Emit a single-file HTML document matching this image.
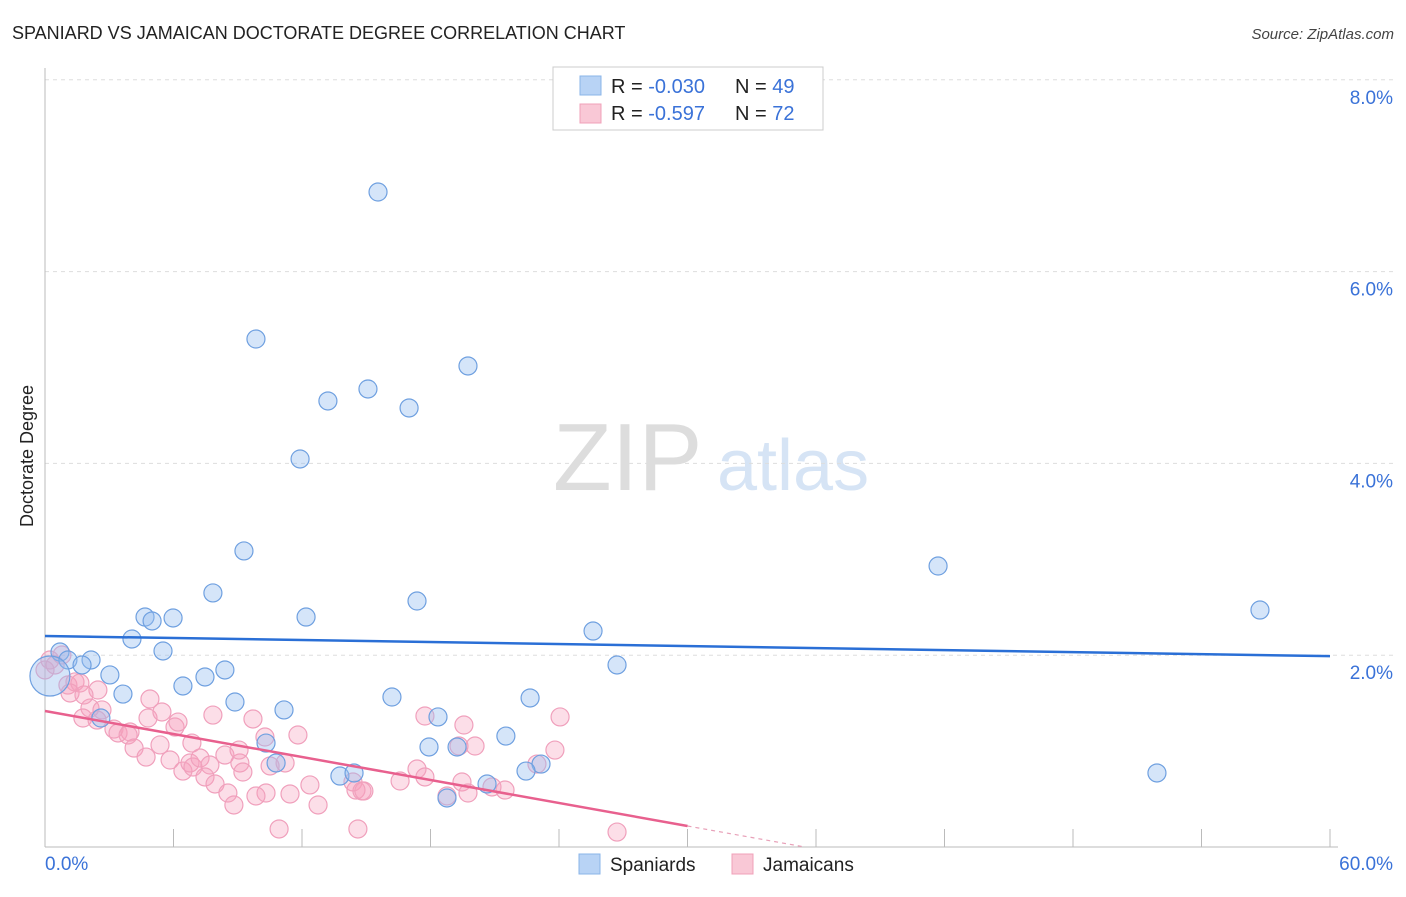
<!DOCTYPE html>
<html><head><meta charset="utf-8"><style>
body{margin:0;background:#fff;font-family:"Liberation Sans",sans-serif}
svg text{font-family:"Liberation Sans",sans-serif}
</style></head><body>
<svg width="1406" height="892" viewBox="0 0 1406 892">
<text x="12" y="39" font-size="18" fill="#222">SPANIARD VS JAMAICAN DOCTORATE DEGREE CORRELATION CHART</text>
<text x="1394" y="39" font-size="15" fill="#444" font-style="italic" text-anchor="end">Source: ZipAtlas.com</text>
<g>
<text x="553" y="490" font-size="96" fill="#ddd" font-family="Liberation Serif,serif">ZIP</text>
<text x="717" y="490" font-size="72" fill="#d6e4f5">atlas</text>
</g>
<g id="grid"></g>
<g id="axes"></g>
<g id="marks"></g>
<text transform="translate(33,456) rotate(-90)" font-size="18" fill="#222" text-anchor="middle">Doctorate Degree</text>
<g>
<rect x="553" y="67" width="270" height="63" fill="#fff" stroke="#ccc"/>
<rect x="580" y="76" width="21" height="19" fill="#b8d3f5" stroke="#8ab4e8"/>
<rect x="580" y="104" width="21" height="19" fill="#f9c8d6" stroke="#f0a0b8"/>
<text x="611" y="93" font-size="20" fill="#222">R = <tspan fill="#3a72d8">-0.030</tspan><tspan x="735">N = </tspan><tspan fill="#3a72d8">49</tspan></text>
<text x="611" y="120" font-size="20" fill="#222">R =  <tspan fill="#3a72d8">-0.597</tspan><tspan x="735">N = </tspan><tspan fill="#3a72d8">72</tspan></text>
</g>
<g>
<rect x="579" y="854" width="21" height="20" fill="#b8d3f5" stroke="#8ab4e8"/>
<text x="610" y="871" font-size="19" fill="#222">Spaniards</text>
<rect x="732" y="854" width="21" height="20" fill="#f9c8d6" stroke="#f0a0b8"/>
<text x="763" y="871" font-size="19" fill="#222">Jamaicans</text>
</g>
</svg>
<script>
const yTicks=[2,4,6,8];
const yTickLabels=["2.0%","4.0%","6.0%","8.0%"];
const xTickLabels=["0.0%","60.0%"];
const spaniardsPx=[[378,192],[256,339],[468,366],[328,401],[368,389],[409,408],[300,459],[244,551],[938,566],[213,593],[417,601],[1260,610],[145,617],[152,621],[173,618],[306,617],[593,631],[132,639],[163,651],[60,652],[68,660],[91,660],[82,665],[617,665],[110,675],[225,670],[183,686],[205,677],[123,694],[392,697],[530,698],[235,702],[284,710],[438,717],[101,718],[266,743],[506,736],[429,747],[457,747],[276,763],[340,776],[354,773],[541,764],[526,771],[1157,773],[487,784],[447,798],[50,676]];
const jamaicansPx=[[50,660],[55,665],[62,655],[45,670],[68,685],[75,682],[80,683],[98,690],[90,708],[70,693],[84,695],[102,710],[83,718],[97,720],[114,729],[118,733],[130,732],[128,735],[134,748],[148,718],[162,712],[150,699],[160,745],[146,757],[175,727],[178,722],[170,760],[192,743],[183,771],[190,763],[193,767],[200,758],[210,765],[205,777],[215,784],[213,715],[225,755],[240,763],[243,772],[239,750],[228,793],[234,805],[253,719],[265,737],[270,766],[285,763],[266,793],[256,796],[290,794],[298,735],[310,785],[318,805],[279,829],[353,782],[356,790],[362,791],[358,829],[364,791],[400,781],[417,769],[425,777],[425,716],[464,725],[462,782],[447,796],[468,793],[475,746],[459,746],[492,787],[505,790],[537,764],[555,750],[560,717],[617,832]];
// data values (x in %, y in %) derived from the picture
const spaniardsX=spaniardsPx.map(p=>+((p[0]-45)/21.417).toFixed(2));
const spaniardsY=spaniardsPx.map(p=>+((847-p[1])/95.9).toFixed(3));
const jamaicansX=jamaicansPx.map(p=>+((p[0]-45)/21.417).toFixed(2));
const jamaicansY=jamaicansPx.map(p=>+((847-p[1])/95.9).toFixed(3));
const spaniardsTrend=[2.2,1.99];
const jamaicansTrend=[1.418,0.219];
const X0=45,X1=1330,Y0=847;
const sx=v=>X0+v*(X1-X0)/60;
const sy=v=>Y0-v*95.9;
const NS="http://www.w3.org/2000/svg";
function mk(tag,attrs,parent){const e=document.createElementNS(NS,tag);for(const k in attrs)e.setAttribute(k,attrs[k]);parent.appendChild(e);return e;}
const grid=document.getElementById('grid'),axes=document.getElementById('axes'),marks=document.getElementById('marks');
yTicks.forEach((t,i)=>{
 const l=mk('line',{x1:X0,x2:1395,y1:sy(t),y2:sy(t),stroke:'#ddd','stroke-dasharray':'4,4'},grid);
 
 
 const tx=mk('text',{x:1393,y:sy(t)+24,'font-size':19,fill:'#3a72d8','text-anchor':'end'},grid);
 tx.textContent=yTickLabels[i];
 
 
});
const la=mk('line',{x1:X0,x2:X0,y1:68,y2:Y0,stroke:'#bbb'},axes);


const ba=mk('line',{x1:X0,x2:X1+8,y1:Y0,y2:Y0,stroke:'#bbb'},axes);


for(let v=6;v<=60;v+=6){
 const t=mk('line',{x1:sx(v),x2:sx(v),y1:829,y2:Y0,stroke:'#bbb'},axes);
 
 
}
[[0,xTickLabels[0],'start',45],[60,xTickLabels[1],'end',1393]].forEach(a=>{
 const t=mk('text',{x:a[3],y:870,'font-size':19,fill:'#3a72d8','text-anchor':a[2]},axes);
 t.textContent=a[1];
 
 
});
function dots(X,Y,fill,stroke,name){
 X.forEach((x,i)=>{
  const r=(i===X.length-1&&name==='spaniard-point')?20:9;
  const c=mk('circle',{cx:sx(x),cy:sy(Y[i]),r:r,fill:fill,stroke:stroke,'stroke-width':1.2},marks);
  
  
 });
}
dots(jamaicansX,jamaicansY,'rgba(245,160,190,0.35)','#f0a0bc','jamaican-point');
dots(spaniardsX,spaniardsY,'rgba(150,190,240,0.4)','#6fa0e0','spaniard-point');
const bt=mk('line',{x1:sx(0),x2:sx(60),y1:sy(spaniardsTrend[0]),y2:sy(spaniardsTrend[1]),stroke:'#2a6fd6','stroke-width':2.5},marks);


const pt=mk('line',{x1:sx(0),x2:sx(30),y1:sy(jamaicansTrend[0]),y2:sy(jamaicansTrend[1]),stroke:'#e8608e','stroke-width':2.5},marks);


const slope=(jamaicansTrend[1]-jamaicansTrend[0])/30;
const xEnd=-jamaicansTrend[0]/slope;
const pd=mk('line',{x1:sx(30),x2:sx(xEnd),y1:sy(jamaicansTrend[1]),y2:sy(0),stroke:'#e8a0b8','stroke-width':1.2,'stroke-dasharray':'4,4'},marks);


</script>
</body></html>
